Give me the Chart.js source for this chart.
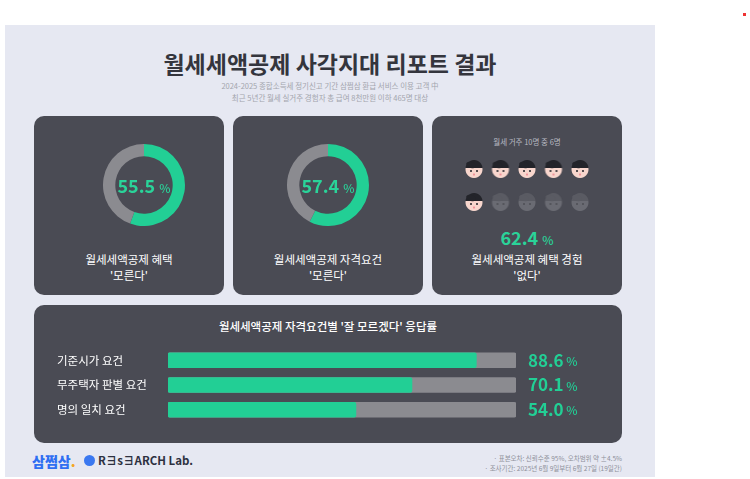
<!DOCTYPE html>
<html><head><meta charset="utf-8">
<script src="https://cdn.jsdelivr.net/npm/chart.js@4"></script>
<style>
body{margin:0;width:750px;height:479px;background:#fff;font-family:"Noto Sans CJK KR","Noto Sans",sans-serif;position:relative;overflow:hidden}
#board{position:absolute;left:5px;top:25px;width:650px;height:452px;background:#e6e8f2}
.abs{position:absolute}
.panel{position:absolute;background:#4a4b54;border-radius:10px}
.c{text-align:center}
.big{color:#2ad399;font-weight:700;font-size:18px}
.big small{font-size:12px;font-weight:500}
.lab{color:#fff;font-size:11.5px;line-height:16px}
</style></head><body>
<div id="board"></div>
<div class="abs c" style="left:5px;width:650px;top:46px;font-size:23px;font-weight:700;color:#34353d">월세세액공제 사각지대 리포트 결과</div>
<div class="abs c" style="left:5px;width:650px;top:80px;font-size:7.5px;color:#a3a5ad;line-height:12px">2024-2025 종합소득세 정기신고 기간 삼쩜삼 환급 서비스 이용 고객 中<br>최근 5년간 월세 실거주 경험자 총 급여 8천만원 이하 465명 대상</div>

<div class="panel" style="left:34px;top:116px;width:190px;height:179px"></div>
<div class="panel" style="left:233px;top:116px;width:190px;height:179px"></div>
<div class="panel" style="left:432px;top:116px;width:190px;height:179px"></div>
<div class="panel" style="left:34px;top:305px;width:588px;height:138px"></div>

<canvas id="d1" class="abs" style="left:103px;top:144px;width:82px;height:82px"></canvas>
<canvas id="d2" class="abs" style="left:287px;top:144px;width:82px;height:82px"></canvas>
<div class="abs c big" style="left:99px;width:90px;top:172px">55.5 <small>%</small></div>
<div class="abs c big" style="left:283px;width:90px;top:172px">57.4 <small>%</small></div>
<div class="abs c lab" style="left:34px;width:190px;top:251px">월세세액공제 혜택<br>'모른다'</div>
<div class="abs c lab" style="left:233px;width:190px;top:251px">월세세액공제 자격요건<br>'모른다'</div>

<div class="abs c" style="left:432px;width:190px;top:136px;font-size:7.5px;color:#b8bac2">월세 거주 10명 중 6명</div>
<canvas id="faces" class="abs" style="left:462px;top:158px;width:130px;height:55px"></canvas>
<div class="abs c big" style="left:432px;width:190px;top:224px">62.4 <small>%</small></div>
<div class="abs c lab" style="left:432px;width:190px;top:251px">월세세액공제 혜택 경험<br>'없다'</div>

<div class="abs c lab" style="left:34px;width:588px;top:318px;font-weight:500">월세세액공제 자격요건별 '잘 모르겠다' 응답률</div>
<canvas id="bars" class="abs" style="left:57px;top:341px;width:553px;height:88px"></canvas>

<div class="abs" style="left:32px;top:451px;font-size:14px;font-weight:900;color:#2f6ff2">삼쩜삼<span style="color:#f5a623">.</span></div>
<div class="abs" style="left:84px;top:455px;width:11px;height:11px;border-radius:50%;background:#3b78f0"></div>
<div class="abs" style="left:98px;top:452px;font-size:11.5px;font-weight:600;color:#2d3040">R∃s∃ARCH Lab.</div>
<div class="abs" style="left:400px;width:222px;top:453px;text-align:right;font-size:6.5px;color:#8e909a;line-height:10px">· 표본오차: 신뢰수준 95%, 오차범위 약 ±4.5%<br>· 조사기간: 2025년 6월 9일부터 6월 27일 (19일간)</div>
<div class="abs" style="left:743px;top:13px;width:3px;height:3px;background:#e33"></div>

<script>
const donutValues = [55.5, 57.4];
const faceTotal = 10;
const faceAffected = 6;
const barLabels = ['기준시가 요건', '무주택자 판별 요건', '명의 일치 요건'];
const barValues = [88.6, 70.1, 54.0];
const barMax = 100;

const GREEN = '#22cf95', TRACK = '#8b8b90';

function donut(id, v) {
  new Chart(document.getElementById(id), {
    type: 'doughnut',
    data: { datasets: [{ data: [v, 100 - v], backgroundColor: [GREEN, TRACK], borderWidth: 0 }] },
    options: { responsive: false, animation: false, cutout: '70%',
      plugins: { legend: { display: false }, tooltip: { enabled: false } } }
  });
}
['d1', 'd2'].forEach((id, i) => {
  const c = document.getElementById(id); c.width = 82; c.height = 82;
  donut(id, donutValues[i]);
});

function face(on) {
  const s = 40, c = document.createElement('canvas');
  c.width = s; c.height = s;
  const g = c.getContext('2d');
  g.fillStyle = on ? '#f8d6cd' : '#6a6b73';
  g.beginPath(); g.arc(20, 21, 17, 0, Math.PI * 2); g.fill();
  g.fillStyle = on ? '#23242a' : '#5a5b63';
  g.beginPath(); g.arc(20, 19, 17, Math.PI * 1.02, Math.PI * 1.98); g.closePath(); g.fill();
  g.beginPath(); g.ellipse(14, 12, 10, 6, 0.3, 0, Math.PI * 2); g.fill();
  g.fillStyle = on ? '#23242a' : '#4e4f56';
  g.beginPath(); g.arc(14, 24, 2, 0, 7); g.fill();
  g.beginPath(); g.arc(26, 24, 2, 0, 7); g.fill();
  if (on) {
    g.fillStyle = '#f1939b';
    g.beginPath(); g.arc(20, 31, 2.2, 0, 7); g.fill();
  }
  const out = document.createElement('canvas'); out.width = 20; out.height = 20;
  out.getContext('2d').drawImage(c, 0, 0, 20, 20);
  return out;
}
const onFace = face(true), offFace = face(false);
const facePts = [], faceStyles = [];
for (let i = 0; i < faceTotal; i++) {
  facePts.push({ x: i % 5, y: i < 5 ? 1 : 0 });
  faceStyles.push(i < faceAffected ? onFace : offFace);
}
const fc = document.getElementById('faces'); fc.width = 130; fc.height = 55;
new Chart(fc, {
  type: 'scatter',
  data: { datasets: [{ data: facePts, pointStyle: faceStyles, clip: false }] },
  options: { responsive: false, animation: false,
    layout: { padding: { left: 12, right: 12, top: 11, bottom: 11 } },
    scales: { x: { display: false, min: 0, max: 4 }, y: { display: false, min: 0, max: 1 } },
    plugins: { legend: { display: false }, tooltip: { enabled: false } } }
});

const valueLabels = {
  id: 'valueLabels',
  afterDatasetsDraw(chart) {
    const g = chart.ctx, meta = chart.getDatasetMeta(1);
    g.save(); g.fillStyle = GREEN; g.textBaseline = 'middle';
    meta.data.forEach((b, i) => {
      const x = chart.chartArea.right + 12;
      g.font = '700 17px "Noto Sans CJK KR"';
      const t = barValues[i].toFixed(1);
      g.fillText(t, x, b.y);
      const w = g.measureText(t).width;
      g.font = '500 12px "Noto Sans CJK KR"';
      g.fillText(' %', x + w, b.y + 1);
    });
    g.restore();
  }
};
const bc = document.getElementById('bars'); bc.width = 553; bc.height = 88;
new Chart(bc, {
  type: 'bar',
  data: { labels: barLabels, datasets: [
    { data: barLabels.map(() => barMax), backgroundColor: TRACK, grouped: false, order: 2, barThickness: 15, borderRadius: 2, borderSkipped: false },
    { data: barValues, backgroundColor: GREEN, grouped: false, order: 1, barThickness: 15, borderRadius: 2, borderSkipped: false }
  ] },
  options: { indexAxis: 'y', responsive: false, animation: false,
    layout: { padding: { right: 94 } },
    scales: {
      x: { display: false, min: 0, max: barMax },
      y: { grid: { display: false }, border: { display: false },
        afterFit(s) { s.width = 111; },
        ticks: { color: '#fff', crossAlign: 'far', padding: 0, font: { size: 11.5, family: 'Noto Sans CJK KR' } } }
    },
    plugins: { legend: { display: false }, tooltip: { enabled: false } } },
  plugins: [valueLabels]
});
</script>
</body></html>
